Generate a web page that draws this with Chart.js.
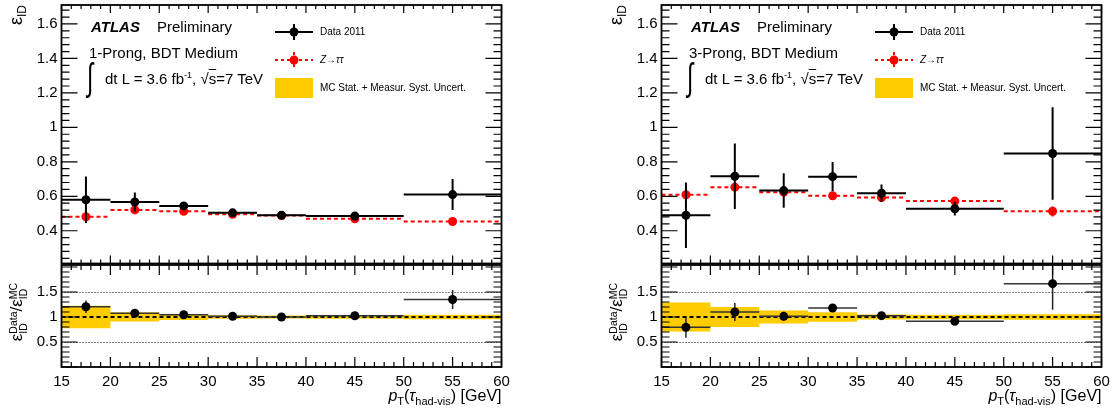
<!DOCTYPE html>
<html>
<head>
<meta charset="utf-8">
<script src="https://cdn.jsdelivr.net/npm/chart.js@4.4.1/dist/chart.umd.min.js"></script>
<style>
  body { margin: 0; background: #fff; }
  #wrap { position: relative; width: 1116px; height: 413px; overflow: hidden;
          font-family: "Liberation Sans", Arial, Helvetica, sans-serif; color: #000; }
  .panel { position: absolute; top: 0; width: 516px; height: 413px; }
  .panel canvas { position: absolute; left: 0; }
  .t { position: absolute; white-space: nowrap; line-height: 15px; font-size: 15px; }
  .t sup { font-size: 9px; vertical-align: 6px; line-height: 0; }
  .leg { font-size: 10px; line-height: 12px; }
  .rot { position: absolute; white-space: nowrap; transform-origin: 0 0; transform: rotate(-90deg); }
  .ss { display: inline-block; vertical-align: middle; line-height: 10px; font-size: 10.5px; text-align: left; }
  .ss span { display: block; }
  .sub { font-size: 11px; vertical-align: -4px; line-height: 0; }
</style>
</head>
<body>
<div id="wrap">
  <div class="panel" id="p1" style="left:0px">
    <canvas id="eff1" width="516" height="268" style="top:0px"></canvas>
    <canvas id="ratio1" width="516" height="153" style="top:260px"></canvas>
  </div>
  <div class="panel" id="p3" style="left:600px">
    <canvas id="eff3" width="516" height="268" style="top:0px"></canvas>
    <canvas id="ratio3" width="516" height="153" style="top:260px"></canvas>
  </div>
</div>
<script>
// binning in pT [GeV]
const BIN_EDGES = [15, 20, 25, 30, 35, 40, 50, 60];
const BIN_CENTERS = [17.5, 22.5, 27.5, 32.5, 37.5, 45, 55];
const X_TICKS = [15, 20, 25, 30, 35, 40, 45, 50, 55, 60];
const EFF_Y_TICKS = [0.4, 0.6, 0.8, 1, 1.2, 1.4, 1.6];
const RATIO_Y_TICKS = [0.5, 1, 1.5];
const RATIO_REF_LINES = [0.5, 1.5];

// 1-prong
const DATA_1P     = [0.580, 0.567, 0.544, 0.504, 0.490, 0.485, 0.610];
const DATA_1P_ERR = [0.135, 0.055, 0.020, 0.010, 0.008, 0.010, 0.090];
const MC_1P       = [0.481, 0.521, 0.513, 0.496, 0.488, 0.469, 0.454];
const MC_1P_ERR   = [0.015, 0.012, 0.010, 0.008, 0.008, 0.010, 0.012];
const RATIO_1P     = [1.206, 1.075, 1.045, 1.015, 1.000, 1.025, 1.350];
const RATIO_1P_ERR = [0.125, 0.020, 0.015, 0.010, 0.008, 0.010, 0.190];
const BAND_1P      = [0.225, 0.090, 0.060, 0.035, 0.030, 0.035, 0.045];

// 3-prong
const DATA_3P     = [0.490, 0.716, 0.633, 0.714, 0.618, 0.528, 0.848];
const DATA_3P_ERR = [0.190, 0.190, 0.100, 0.085, 0.050, 0.040, 0.268];
const MC_3P       = [0.609, 0.653, 0.624, 0.603, 0.593, 0.572, 0.513];
const MC_3P_ERR   = [0.030, 0.030, 0.020, 0.015, 0.025, 0.010, 0.030];
const RATIO_3P     = [0.793, 1.100, 1.013, 1.180, 1.027, 0.913, 1.667];
const RATIO_3P_ERR = [0.210, 0.180, 0.090, 0.070, 0.040, 0.020, 0.520];
const BAND_3P      = [0.290, 0.200, 0.130, 0.095, 0.050, 0.047, 0.055];

const YELLOW = "#ffcc00";
Chart.defaults.font.family = '"Liberation Sans", Arial, Helvetica, sans-serif';
Chart.defaults.color = "#000";

// --- helpers turning the arrays into line pieces (null breaks the line) ---
function pts(vals) { return vals.map((v, i) => ({ x: BIN_CENTERS[i], y: v })); }
function hSegs(vals) {
  const out = [];
  vals.forEach((v, i) => out.push({ x: BIN_EDGES[i], y: v }, { x: BIN_EDGES[i + 1], y: v }, { x: BIN_EDGES[i + 1], y: null }));
  return out;
}
function vSegs(vals, errs) {
  const out = [];
  vals.forEach((v, i) => out.push({ x: BIN_CENTERS[i], y: v - errs[i] }, { x: BIN_CENTERS[i], y: v + errs[i] }, { x: BIN_CENTERS[i], y: null }));
  return out;
}
function bandEdge(errs, sign) {
  const out = [];
  errs.forEach((e, i) => out.push({ x: BIN_EDGES[i], y: 1 + sign * e }, { x: BIN_EDGES[i + 1], y: 1 + sign * e }));
  return out;
}
const line = (data, color, width, dash) => ({ data, showLine: true, borderColor: color, borderWidth: width, borderDash: dash || [], pointRadius: 0 });
const dots = (data, color) => ({ data, pointRadius: 4.5, pointBackgroundColor: color, pointBorderWidth: 0 });

// no label overhang padding, the frame is placed by layout.padding only
const noPad = s => { s.paddingTop = 0; s.paddingBottom = 0; s.paddingLeft = 0; s.paddingRight = 0; };

// ROOT-like frame with inward ticks on all four sides
const rootFrame = {
  id: "rootFrame",
  beforeDatasetsDraw(chart, args, o) {
    if (!o.refLines) return;
    const { ctx, chartArea: a } = chart;
    const y = chart.scales.y;
    ctx.save();
    ctx.strokeStyle = "#000"; ctx.lineWidth = 1; ctx.setLineDash([1, 2]);
    for (const v of o.refLines) {
      const py = Math.round(y.getPixelForValue(v)) + 0.5;
      ctx.beginPath(); ctx.moveTo(a.left, py); ctx.lineTo(a.right, py); ctx.stroke();
    }
    ctx.restore();
  },
  afterDatasetsDraw(chart, args, o) {
    const { ctx, chartArea: a } = chart;
    const xs = chart.scales.x, ys = chart.scales.y;
    ctx.save();
    ctx.strokeStyle = "#000";
    ctx.lineWidth = 1.2;
    const isMajor = (v, step) => Math.abs(v / step - Math.round(v / step)) < 1e-6;
    for (let k = Math.ceil(xs.min / o.xMinor - 1e-9); k * o.xMinor <= xs.max + 1e-9; k++) {
      const v = k * o.xMinor, px = xs.getPixelForValue(v);
      const len = isMajor(v, o.xMajor) ? o.xLen[0] : o.xLen[1];
      ctx.beginPath();
      ctx.moveTo(px, a.bottom); ctx.lineTo(px, a.bottom - len);
      ctx.moveTo(px, a.top); ctx.lineTo(px, a.top + len);
      ctx.stroke();
    }
    for (let k = Math.ceil(ys.min / o.yMinor - 1e-9); k * o.yMinor <= ys.max + 1e-9; k++) {
      const v = k * o.yMinor, py = ys.getPixelForValue(v);
      const len = isMajor(v, o.yMajor) ? o.yLen[0] : o.yLen[1];
      ctx.beginPath();
      ctx.moveTo(a.left, py); ctx.lineTo(a.left + len, py);
      ctx.moveTo(a.right, py); ctx.lineTo(a.right - len, py);
      ctx.stroke();
    }
    ctx.lineWidth = 1.8;
    ctx.strokeRect(a.left, a.top, a.right - a.left, a.bottom - a.top);
    ctx.restore();
  }
};

// legend symbols (text is in the html overlay)
const legendSymbols = {
  id: "legendSymbols",
  afterDraw(chart) {
    const ctx = chart.ctx;
    ctx.save();
    ctx.lineWidth = 2;
    ctx.strokeStyle = "#000";
    ctx.beginPath(); ctx.moveTo(275, 32); ctx.lineTo(313, 32); ctx.moveTo(294, 24); ctx.lineTo(294, 40); ctx.stroke();
    ctx.fillStyle = "#000"; ctx.beginPath(); ctx.arc(294, 32, 4.5, 0, Math.PI * 2); ctx.fill();
    ctx.strokeStyle = "#f00"; ctx.setLineDash([3, 3]);
    ctx.beginPath(); ctx.moveTo(275, 60); ctx.lineTo(313, 60); ctx.moveTo(294, 52); ctx.lineTo(294, 68); ctx.stroke();
    ctx.fillStyle = "#f00"; ctx.beginPath(); ctx.arc(294, 60, 4.5, 0, Math.PI * 2); ctx.fill();
    ctx.fillStyle = YELLOW; ctx.fillRect(275, 78, 38, 20);
    ctx.restore();
  }
};

const fmt = v => String(+Number(v).toFixed(2));

function effChart(id, d, md, de, me) {
  return new Chart(document.getElementById(id), {
    type: "scatter",
    data: { datasets: [
      dots(pts(d), "#000"),
      line(vSegs(d, de), "#000", 2),
      line(hSegs(d), "#000", 2),
      dots(pts(md), "#f00"),
      line(vSegs(md, me), "#f00", 2, [3, 2]),
      line(hSegs(md), "#f00", 2, [4, 3]),
    ] },
    options: {
      responsive: false, animation: false, events: [],
      layout: { padding: { left: 0, right: 14.5, top: 5, bottom: 3 } },
      plugins: {
        legend: { display: false }, tooltip: { enabled: false },
        rootFrame: { xMinor: 1, xMajor: 5, xLen: [8, 4], yMinor: 0.04, yMajor: 0.2, yLen: [16, 8] },
      },
      scales: {
        x: { type: "linear", min: 15, max: 60, display: false },
        y: {
          type: "linear", min: 0.21, max: 1.71,
          afterBuildTicks: s => { s.ticks = EFF_Y_TICKS.map(v => ({ value: v })); },
          afterFit: s => { s.width = 61.5; noPad(s); },
          grid: { display: false, drawTicks: false }, border: { display: false },
          ticks: { font: { size: 15 }, color: "#000", padding: 4, callback: fmt },
        },
      },
    },
    plugins: [rootFrame, legendSymbols],
  });
}

function ratioChart(id, r, re, band) {
  return new Chart(document.getElementById(id), {
    type: "scatter",
    data: { datasets: [
      dots(pts(r), "#000"),
      line(vSegs(r, re), "#222", 1.5),
      line(hSegs(r), "#333", 1.5),
      line([{ x: 15, y: 1 }, { x: 60, y: 1 }], "#000", 2, [4, 3]),
      { data: bandEdge(band, 1), showLine: true, borderWidth: 0, pointRadius: 0, fill: { value: 1 }, backgroundColor: YELLOW },
      { data: bandEdge(band, -1), showLine: true, borderWidth: 0, pointRadius: 0, fill: { value: 1 }, backgroundColor: YELLOW },
    ] },
    options: {
      responsive: false, animation: false, events: [],
      layout: { padding: { left: 0, right: 14.5, top: 5, bottom: 0 } },
      plugins: {
        legend: { display: false }, tooltip: { enabled: false },
        rootFrame: { xMinor: 1, xMajor: 5, xLen: [10, 5], yMinor: 0.1, yMajor: 0.5, yLen: [16, 8], refLines: RATIO_REF_LINES },
      },
      scales: {
        x: {
          type: "linear", min: 15, max: 60,
          afterBuildTicks: s => { s.ticks = X_TICKS.map(v => ({ value: v })); },
          afterFit: s => { s.height = 46; noPad(s); },
          grid: { display: false, drawTicks: false }, border: { display: false },
          ticks: { font: { size: 15 }, color: "#000", padding: 6, maxRotation: 0, callback: fmt },
        },
        y: {
          type: "linear", min: 0, max: 2.04,
          afterBuildTicks: s => { s.ticks = RATIO_Y_TICKS.map(v => ({ value: v })); },
          afterFit: s => { s.width = 61.5; noPad(s); },
          grid: { display: false, drawTicks: false }, border: { display: false },
          ticks: { font: { size: 15 }, color: "#000", padding: 4, callback: fmt },
        },
      },
    },
    plugins: [rootFrame],
  });
}

function panelText(prong) {
  return `
  <div class="t" style="left:91px;top:19px"><b><i>ATLAS</i></b></div>
  <div class="t" style="left:157px;top:19px">Preliminary</div>
  <div class="t" style="left:89px;top:45px">${prong}, BDT Medium</div>
  <div class="t" style="left:87px;top:58px;font-size:38px;line-height:38px;transform:scaleX(0.6);transform-origin:0 0">&#8747;</div>
  <div class="t" style="left:105px;top:71px">dt L = 3.6 fb<sup>-1</sup>, &#8730;<span style="text-decoration:overline">s</span>=7 TeV</div>
  <div class="t leg" style="left:320px;top:26px">Data 2011</div>
  <div class="t leg" style="left:320px;top:54px"><i>Z</i>&#8594;<i>&#964;&#964;</i></div>
  <div class="t leg" style="left:320px;top:82px">MC Stat. + Measur. Syst. Uncert.</div>
  <div class="rot" style="left:6px;top:65px;width:60px;text-align:right;font-size:18px;line-height:20px">&#949;<span class="sub" style="font-size:12px">ID</span></div>
  <div class="rot" style="left:4px;top:362px;width:100px;text-align:center;font-size:17px;line-height:26px">&#949;<span class="ss"><span>Data</span><span>ID</span></span>/&#949;<span class="ss"><span>MC</span><span>ID</span></span></div>
  <div class="t" style="right:14.5px;top:388px;line-height:15px;font-size:16px"><i>p</i><span class="sub">T</span>(<i>&#964;</i><span class="sub">had-vis</span>) [GeV]</div>`;
}

document.getElementById("p1").insertAdjacentHTML("beforeend", panelText("1-Prong"));
document.getElementById("p3").insertAdjacentHTML("beforeend", panelText("3-Prong"));

effChart("eff1", DATA_1P, MC_1P, DATA_1P_ERR, MC_1P_ERR);
ratioChart("ratio1", RATIO_1P, RATIO_1P_ERR, BAND_1P);
effChart("eff3", DATA_3P, MC_3P, DATA_3P_ERR, MC_3P_ERR);
ratioChart("ratio3", RATIO_3P, RATIO_3P_ERR, BAND_3P);
</script>
</body>
</html>
